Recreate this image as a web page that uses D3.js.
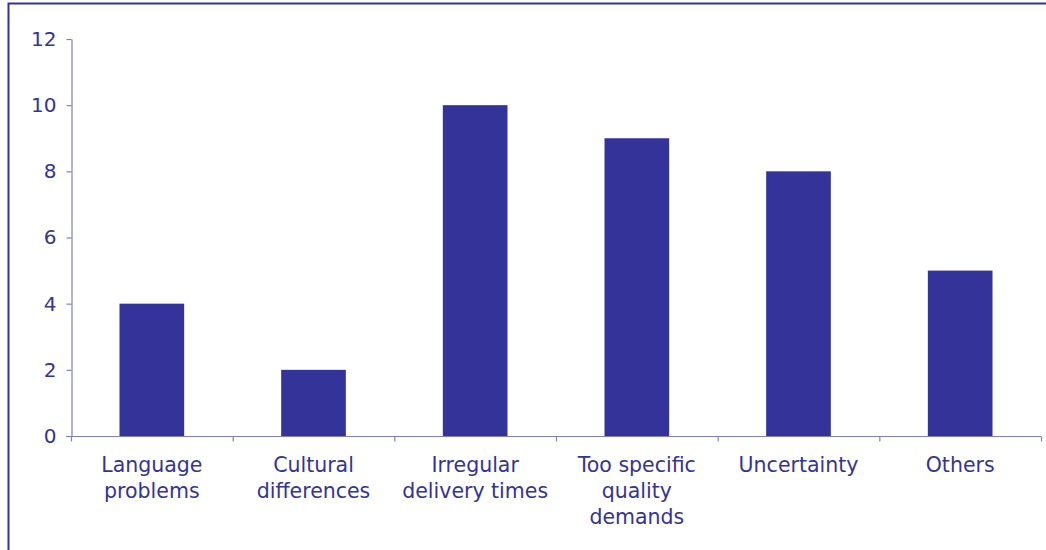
<!DOCTYPE html>
<html>
<head>
<meta charset="utf-8">
<script src="https://cdn.jsdelivr.net/npm/d3@7"></script>
<style>
  html, body { margin: 0; padding: 0; background: #fff; }
  svg { display: block; }
  text { font-family: "DejaVu Sans", Verdana, sans-serif; fill: #333399; }
</style>
</head>
<body>
<svg id="chart" width="1046" height="550"></svg>
<script>
const categories = [
  ["Language", "problems"],
  ["Cultural", "differences"],
  ["Irregular", "delivery times"],
  ["Too specific", "quality", "demands"],
  ["Uncertainty"],
  ["Others"]
];
const values = [4, 2, 10, 9, 8, 5];
const yTicks = [0, 2, 4, 6, 8, 10, 12];

const svg = d3.select("#chart");
const margin = { left: 71, right: 5, top: 39, bottom: 114 };
const width = 1046, height = 550;

// outer chart frame (right and bottom edges fall outside the view)
svg.append("rect")
  .attr("x", 8.5).attr("y", 3.5)
  .attr("width", 1100).attr("height", 600)
  .attr("fill", "none").attr("stroke", "#333399").attr("stroke-width", 2);

const x = d3.scaleBand()
  .domain(d3.range(categories.length))
  .range([margin.left, width - margin.right])
  .paddingInner(0).paddingOuter(0);

const y = d3.scaleLinear().domain([0, 12]).range([height - margin.bottom, margin.top]);

const axisColor = "#8080c0";

// bars
const barW = x.bandwidth() * 0.4;
svg.append("g").selectAll("rect").data(values).join("rect")
  .attr("x", (d, i) => x(i) + (x.bandwidth() - barW) / 2)
  .attr("y", d => y(d))
  .attr("width", barW)
  .attr("height", d => y(0) - y(d))
  .attr("fill", "#333399");

// y axis
const yAxis = svg.append("g")
  .attr("transform", `translate(${margin.left + 0.5},0)`)
  .call(d3.axisLeft(y).tickValues(yTicks).tickSize(5).tickPadding(10).tickSizeOuter(0));
yAxis.select(".domain").attr("stroke", axisColor).attr("stroke-width", 1.2);
yAxis.selectAll(".tick line").attr("stroke", axisColor).attr("stroke-width", 1.2);
yAxis.selectAll(".tick text")
  .style("font-size", "20px")
  .attr("fill", "#333399")
  .style("font-family", "'DejaVu Sans', Verdana, sans-serif");

// x axis line with category boundary ticks
const x0 = y(0) + 0.5;
svg.append("line")
  .attr("x1", margin.left - 5).attr("x2", width - margin.right)
  .attr("y1", x0).attr("y2", x0)
  .attr("stroke", axisColor).attr("stroke-width", 1.2);
const bounds = d3.range(categories.length + 1).map(i => i < categories.length ? x(i) : x(i - 1) + x.bandwidth());
svg.append("g").selectAll("line").data(bounds).join("line")
  .attr("x1", d => d + 0.5).attr("x2", d => d + 0.5)
  .attr("y1", x0).attr("y2", x0 + 5)
  .attr("stroke", axisColor).attr("stroke-width", 1.2);

// category labels
const labels = svg.append("g").selectAll("text").data(categories).join("text")
  .attr("text-anchor", "middle")
  .attr("x", (d, i) => x(i) + x.bandwidth() / 2)
  .attr("y", 472)
  .style("font-size", "20.5px");
labels.selectAll("tspan").data(d => d).join("tspan")
  .attr("x", function () { return d3.select(this.parentNode).attr("x"); })
  .attr("dy", (d, i) => i === 0 ? 0 : 26.2)
  .text(d => d);
</script>
</body>
</html>
